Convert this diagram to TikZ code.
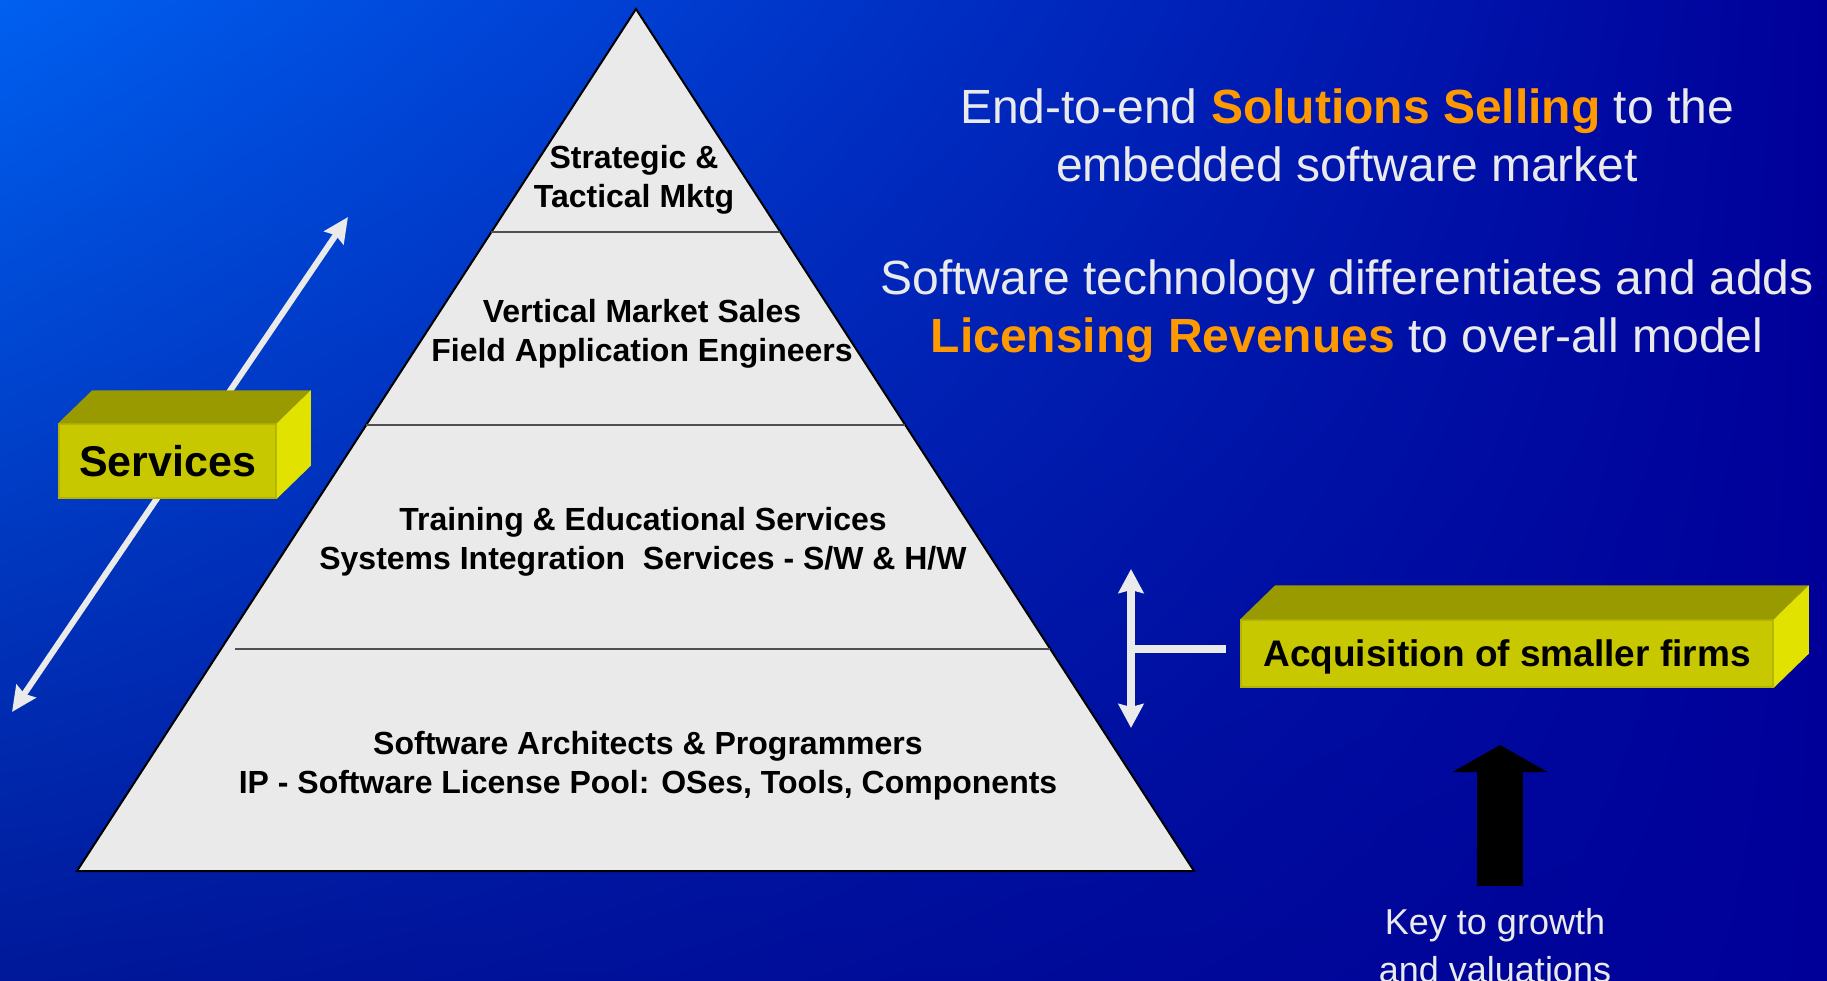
\documentclass[tikz,border=0pt]{standalone}
\usepackage{fontspec}
\setmainfont{Liberation Sans}
\usetikzlibrary{arrows.meta,positioning,calc,shadings}
\definecolor{bgtop}{RGB}{0,96,240}
\definecolor{bgdeep}{RGB}{0,0,153}
\definecolor{bglow}{RGB}{0,24,153}
\definecolor{paper}{HTML}{EAEAEA}
\definecolor{accent}{HTML}{FF9900}
\definecolor{divider}{HTML}{505050}
\definecolor{boxfront}{RGB}{200,200,0}
\definecolor{boxtop}{RGB}{153,153,0}
\definecolor{boxside}{RGB}{226,226,0}
\definecolor{boxedge}{RGB}{180,180,0}

\begin{document}
\begin{tikzpicture}[x=1pt, y=-1pt,
    tier/.style={font=\fontsize{32}{39}\selectfont\bfseries, align=center, inner sep=0pt},
    pitch/.style={font=\fontsize{48}{58}\selectfont, text=paper, align=center, inner sep=0pt},
    block/.style={fill=boxfront, draw=boxedge, line width=1.5pt, inner sep=0pt},
    spread/.style={draw=paper, line width=6pt,
                   {Stealth[length=25pt,width=23pt,inset=3pt]}-{Stealth[length=25pt,width=23pt,inset=3pt]}}
  ]
  \useasboundingbox (0,0) rectangle (1827,981);
  \shade[upper left=bgtop, upper right=bgdeep, lower left=bglow, lower right=bgdeep]
    (0,0) rectangle (1827,981);

  % services reach, behind the box
  \coordinate (svclow) at (12,712);
  \coordinate (svchigh) at (348,217);
  \draw[spread] (svclow) -- (svchigh);

  % the pyramid
  \coordinate (apex) at (636,9);
  \coordinate (bl) at (77,871);
  \coordinate (br) at (1194,871);
  \draw[fill=paper, line width=2pt] (apex) -- (br) -- (bl) -- cycle;
  \foreach \t/\cut in {0.2587/0pt,0.4826/0pt,0.7425/14pt}
    \draw[divider, line width=2.5pt, shorten <=\cut] ($(apex)!\t!(bl)$) -- ($(apex)!\t!(br)$);

  \node[tier] (mktg) at (634,180) {Strategic \&\\Tactical Mktg};
  \node[tier] (sales) at (642,334) {Vertical Market Sales\\Field Application Engineers};
  \node[tier] (training) at (643,542) {Training \& Educational Services\\Systems Integration~ Services - S/W \& H/W};
  \node[tier] (ip) at (648,766) {Software Architects \& Programmers\\IP - Software License Pool: OSes, Tools, Components};

  % services slab
  \node[block, minimum width=217pt, minimum height=74pt,
        font=\fontsize{43}{43}\selectfont\bfseries] (services) at (167.5,461) {Services};
  \fill[boxtop] (services.north west) -- ($(services.north west)+(34,-33)$)
    -- ($(services.north east)+(34,-33)$) -- (services.north east) -- cycle;
  \fill[boxside] (services.north east) -- ($(services.north east)+(34,-33)$)
    -- ($(services.south east)+(34,-33)$) -- (services.south east) -- cycle;

  % headline texts
  \node[pitch] (solutions) at (1347,135)
    {End-to-end \textbf{\color{accent}Solutions Selling} to the\\embedded software market};
  \node[pitch] (licensing) at (1347,311)
    {Software technology differentiates and adds\\\textbf{\color{accent}Licensing Revenues} to over-all model};

  % acquisition slab
  \node[block, minimum width=532pt, minimum height=67pt, text depth=0pt,
        font=\fontsize{37}{37}\selectfont\bfseries] (acq) at (1507,653.5) {Acquisition of smaller firms};
  \fill[boxtop] (acq.north west) -- ($(acq.north west)+(35,-34)$)
    -- ($(acq.north east)+(35,-34)$) -- (acq.north east) -- cycle;
  \fill[boxside] (acq.north east) -- ($(acq.north east)+(35,-34)$)
    -- ($(acq.south east)+(35,-34)$) -- (acq.south east) -- cycle;

  \coordinate (scaleup) at (1131,569);
  \coordinate (scaledown) at (1131,728);
  \coordinate (tee) at (1131,649);
  \draw[draw=paper, line width=8pt,
        {Stealth[length=24pt,width=25pt,inset=3pt]}-{Stealth[length=24pt,width=25pt,inset=3pt]}]
    (scaledown) -- (scaleup);
  \draw[draw=paper, line width=8pt, shorten >=14pt] (tee) -- (tee -| acq.west);

  % growth arrow
  \node[font=\fontsize{36}{48}\selectfont, text=paper, align=center, inner sep=0pt]
    (key) at (1495,946) {Key to growth\\and valuations};
  \coordinate (growth) at (1500,886);
  \coordinate (growthtip) at (1500,745);
  \draw[black, line width=46pt, -{Triangle[length=27pt,width=94pt]}] (growth) -- (growthtip);
\end{tikzpicture}
\end{document}
